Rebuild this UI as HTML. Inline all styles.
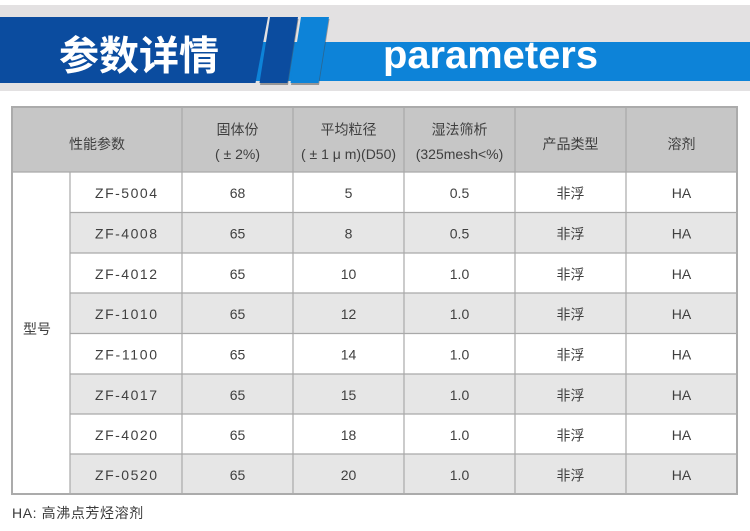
<!DOCTYPE html>
<html>
<head>
<meta charset="utf-8">
<style>
html,body{margin:0;padding:0;background:#fff;}
body{width:750px;height:531px;overflow:hidden;}
svg{display:block;}
text{font-family:"Liberation Sans","Noto Sans CJK SC",sans-serif;}
</style>
</head>
<body>
<svg width="750" height="531" viewBox="0 0 750 531" xmlns="http://www.w3.org/2000/svg">
  <!-- banner -->
  <rect x="0" y="0" width="750" height="531" fill="#ffffff"/>
  <rect x="0" y="5" width="750" height="86" fill="#e3e1e2"/>
  <rect x="240" y="42" width="510" height="39" fill="#0d83d8"/>
  <polygon points="0,17 268,17 255.5,83 0,83" fill="#0b4c9f"/>
  <!-- stripe shadows -->
  <polygon points="270.5,19 298.5,19 288,85 260,85" fill="#4a4a4a" opacity="0.5"/>
  <polygon points="301.5,19 329.5,19 319,85 291,85" fill="#4a4a4a" opacity="0.5"/>
  <polygon points="270,17 298,17 287.5,83 259.5,83" fill="#0b4c9f"/>
  <polygon points="301,17 329,17 318.5,83 290.5,83" fill="#0d83d8"/>
  <text x="59" y="69.5" font-size="40" font-weight="bold" fill="#ffffff" style="font-family:'Noto Sans CJK SC','WenQuanYi Zen Hei',sans-serif;">参数详情</text>
  <text x="383" y="68" font-size="39" font-weight="bold" fill="#ffffff" textLength="215" lengthAdjust="spacingAndGlyphs">parameters</text>

  <!-- table backgrounds -->
  <rect x="12" y="107" width="725" height="65" fill="#c6c6c6"/>
  <rect x="70" y="212.5" width="667" height="40.5" fill="#e6e6e6"/>
  <rect x="70" y="293" width="667" height="40.5" fill="#e6e6e6"/>
  <rect x="70" y="374" width="667" height="40" fill="#e6e6e6"/>
  <rect x="70" y="454" width="667" height="40" fill="#e6e6e6"/>

  <!-- grid lines -->
  <g stroke="#a9a9a9" stroke-width="1.2" fill="none">
    <line x1="12" y1="172" x2="737" y2="172"/>
    <line x1="70" y1="212.5" x2="737" y2="212.5"/>
    <line x1="70" y1="253" x2="737" y2="253"/>
    <line x1="70" y1="293" x2="737" y2="293"/>
    <line x1="70" y1="333.5" x2="737" y2="333.5"/>
    <line x1="70" y1="374" x2="737" y2="374"/>
    <line x1="70" y1="414" x2="737" y2="414"/>
    <line x1="70" y1="454" x2="737" y2="454"/>
    <line x1="70" y1="172" x2="70" y2="494"/>
    <line x1="182" y1="107" x2="182" y2="494"/>
    <line x1="293" y1="107" x2="293" y2="494"/>
    <line x1="404" y1="107" x2="404" y2="494"/>
    <line x1="515" y1="107" x2="515" y2="494"/>
    <line x1="626" y1="107" x2="626" y2="494"/>
  </g>
  <rect x="12" y="107" width="725" height="387" fill="none" stroke="#ababab" stroke-width="2"/>

  <!-- header text -->
  <g fill="#3f3f3f" font-size="14" text-anchor="middle">
    <text x="97" y="149">性能参数</text>
    <text x="237.5" y="134.5">固体份</text>
    <text x="237.5" y="159">( ± 2%)</text>
    <text x="348.5" y="134.5">平均粒径</text>
    <text x="348.5" y="159">( ± 1 μ m)(D50)</text>
    <text x="459.5" y="134.5">湿法筛析</text>
    <text x="459.5" y="159">(325mesh&lt;%)</text>
    <text x="570.5" y="149">产品类型</text>
    <text x="681.5" y="149">溶剂</text>
  </g>

  <text x="23" y="334" font-size="14" fill="#3f3f3f">型号</text>

  <!-- data rows -->
  <g fill="#3f3f3f" font-size="14" text-anchor="middle">
    <text x="126" y="198" textLength="62" lengthAdjust="spacing">ZF-5004</text>
    <text x="237.5" y="198">68</text><text x="348.5" y="198">5</text><text x="459.5" y="198">0.5</text><text x="570.5" y="198.5">非浮</text><text x="681.5" y="198">HA</text>

    <text x="126" y="238.5" textLength="62" lengthAdjust="spacing">ZF-4008</text>
    <text x="237.5" y="238.5">65</text><text x="348.5" y="238.5">8</text><text x="459.5" y="238.5">0.5</text><text x="570.5" y="239">非浮</text><text x="681.5" y="238.5">HA</text>

    <text x="126" y="279" textLength="62" lengthAdjust="spacing">ZF-4012</text>
    <text x="237.5" y="279">65</text><text x="348.5" y="279">10</text><text x="459.5" y="279">1.0</text><text x="570.5" y="279.5">非浮</text><text x="681.5" y="279">HA</text>

    <text x="126" y="319" textLength="62" lengthAdjust="spacing">ZF-1010</text>
    <text x="237.5" y="319">65</text><text x="348.5" y="319">12</text><text x="459.5" y="319">1.0</text><text x="570.5" y="319.5">非浮</text><text x="681.5" y="319">HA</text>

    <text x="126" y="359.5" textLength="62" lengthAdjust="spacing">ZF-1100</text>
    <text x="237.5" y="359.5">65</text><text x="348.5" y="359.5">14</text><text x="459.5" y="359.5">1.0</text><text x="570.5" y="360">非浮</text><text x="681.5" y="359.5">HA</text>

    <text x="126" y="400" textLength="62" lengthAdjust="spacing">ZF-4017</text>
    <text x="237.5" y="400">65</text><text x="348.5" y="400">15</text><text x="459.5" y="400">1.0</text><text x="570.5" y="400.5">非浮</text><text x="681.5" y="400">HA</text>

    <text x="126" y="440" textLength="62" lengthAdjust="spacing">ZF-4020</text>
    <text x="237.5" y="440">65</text><text x="348.5" y="440">18</text><text x="459.5" y="440">1.0</text><text x="570.5" y="440.5">非浮</text><text x="681.5" y="440">HA</text>

    <text x="126" y="480" textLength="62" lengthAdjust="spacing">ZF-0520</text>
    <text x="237.5" y="480">65</text><text x="348.5" y="480">20</text><text x="459.5" y="480">1.0</text><text x="570.5" y="480.5">非浮</text><text x="681.5" y="480">HA</text>
  </g>

  <!-- footer -->
  <text x="12" y="518" font-size="14" fill="#3a3a3a" letter-spacing="0.6">HA: 高沸点芳烃溶剂</text>
</svg>
</body>
</html>
